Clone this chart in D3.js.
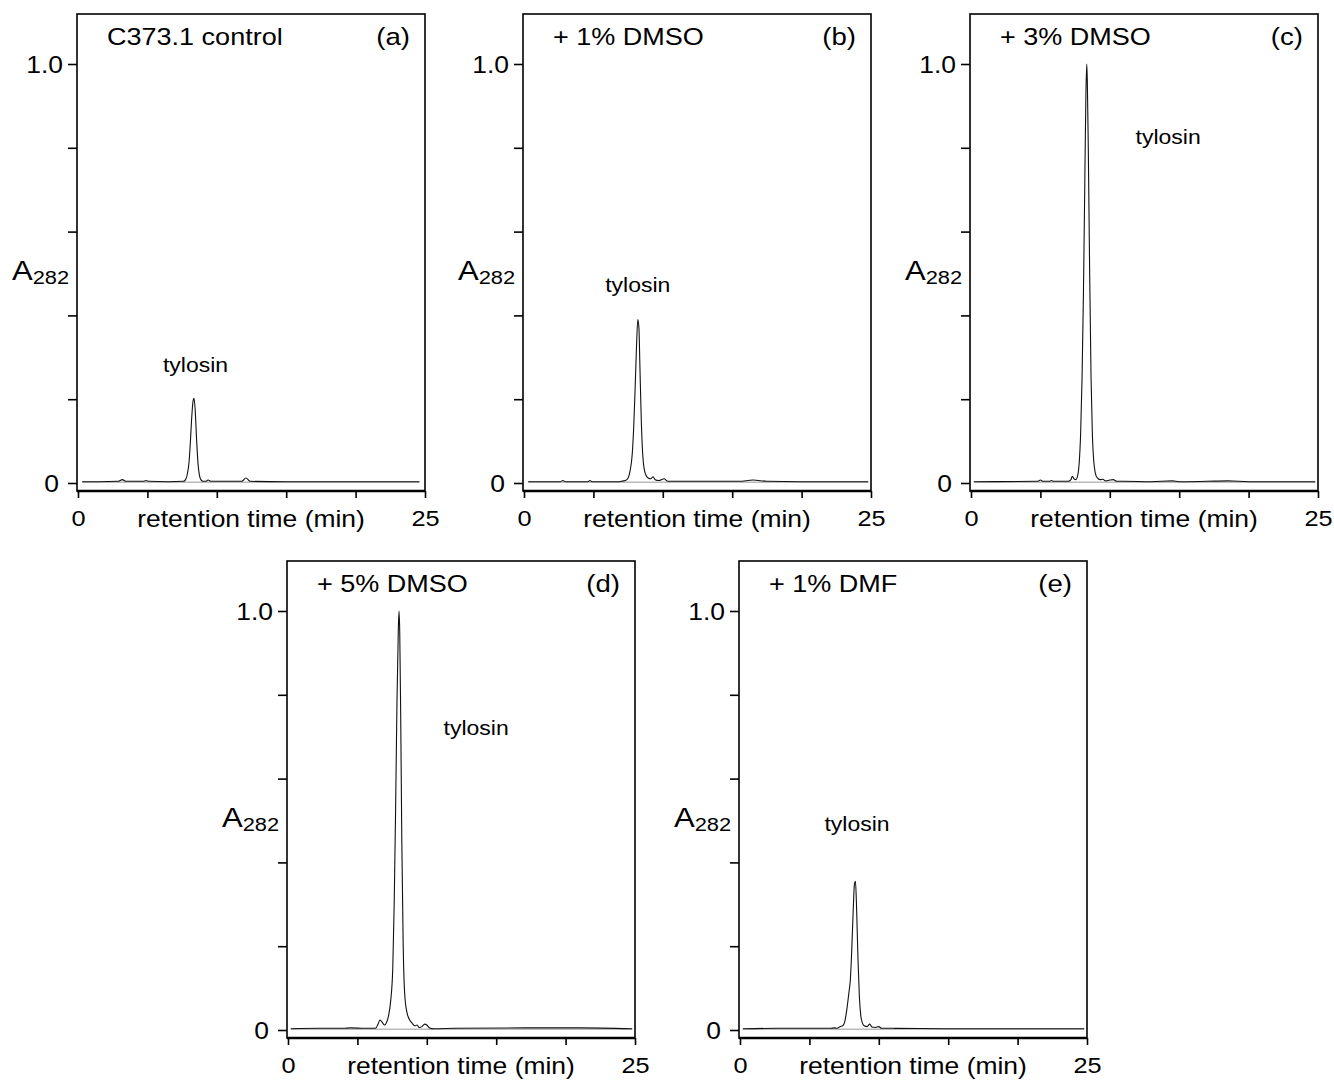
<!DOCTYPE html>
<html>
<head>
<meta charset="utf-8">
<script src="https://cdn.jsdelivr.net/npm/d3@7"></script>
<style>
  html, body { margin: 0; padding: 0; background: #fff; }
  svg { display: block; font-family: "Liberation Sans", Arial, Helvetica, sans-serif; }
</style>
</head>
<body>
<svg id="chart" width="1334" height="1082"></svg>
<script>
// ---------------- data ----------------
const panelIds    = ["a", "b", "c", "d", "e"];
const panelTitles = ["C373.1 control", "+ 1% DMSO", "+ 3% DMSO", "+ 5% DMSO", "+ 1% DMF"];
const panelLetters = ["(a)", "(b)", "(c)", "(d)", "(e)"];
const peakName = "tylosin";
const xTickValues = [0, 5, 10, 15, 20, 25];
const xTickLabels = ["0", "", "", "", "", "25"];
const yTickValues = [0, 0.2, 0.4, 0.6, 0.8, 1.0];
const yTickLabels = ["0", "", "", "", "", "1.0"];
const xTitle = "retention time (min)";
const yTitleMain = "A";
const yTitleSub = "282";

// chromatogram traces: [retention time (min), A282 (normalised)]
const traceA = [
  [0.3,0.003],[1.5,0.003],[2.9,0.004],[3.2,0.008],[3.45,0.004],[4.7,0.004],[4.9,0.006],[5.1,0.004],
  [6.5,0.003],[7.6,0.004],[7.75,0.008],[7.9,0.025],[8.0,0.05],[8.1,0.10],[8.2,0.16],[8.3,0.198],
  [8.36,0.202],[8.45,0.17],[8.55,0.10],[8.65,0.045],[8.75,0.018],[8.85,0.008],[9.0,0.004],
  [9.2,0.004],[9.37,0.007],[9.6,0.004],[10.4,0.004],[11.8,0.004],[12.1,0.012],[12.4,0.004],
  [15,0.003],[20,0.003],[24.6,0.003]
];
const traceB = [
  [0.3,0.003],[2.6,0.003],[2.8,0.006],[3.0,0.003],[4.6,0.003],[4.75,0.006],[4.9,0.003],[6.8,0.003],
  [7.0,0.004],[7.3,0.006],[7.5,0.012],[7.65,0.03],[7.8,0.07],[7.9,0.13],[8.0,0.22],[8.1,0.32],
  [8.2,0.39],[8.28,0.37],[8.35,0.28],[8.45,0.15],[8.55,0.07],[8.65,0.035],[8.8,0.018],[8.95,0.012],
  [9.1,0.01],[9.3,0.015],[9.45,0.008],[9.7,0.006],[10.1,0.01],[10.3,0.005],[10.5,0.004],
  [15.5,0.004],[16.5,0.007],[17.5,0.004],[20,0.003],[24.8,0.003]
];
const traceC = [
  [0.2,0.003],[4.8,0.004],[5.0,0.007],[5.2,0.004],[5.65,0.004],[5.8,0.006],[5.95,0.004],[6.8,0.004],
  [7.0,0.004],[7.2,0.008],[7.3,0.016],[7.42,0.01],[7.55,0.008],[7.7,0.02],[7.8,0.05],[7.9,0.12],
  [8.0,0.25],[8.1,0.45],[8.2,0.72],[8.28,0.93],[8.34,1.0],[8.38,0.96],[8.45,0.8],[8.55,0.5],
  [8.65,0.25],[8.75,0.11],[8.85,0.05],[8.95,0.025],[9.1,0.012],[9.3,0.008],[9.5,0.009],[9.7,0.005],
  [10.0,0.007],[10.25,0.008],[10.5,0.004],[11,0.004],[13,0.003],[14.5,0.005],[15,0.003],
  [17,0.004],[18.5,0.005],[20,0.003],[24.8,0.003]
];
const traceD = [
  [0.2,0.003],[2.3,0.004],[4.0,0.004],[4.5,0.005],[5.5,0.004],[6.0,0.004],[6.3,0.004],[6.5,0.015],
  [6.62,0.024],[6.75,0.02],[6.95,0.012],[7.1,0.018],[7.25,0.035],[7.4,0.07],[7.55,0.15],[7.65,0.3],
  [7.75,0.52],[7.85,0.78],[7.95,0.96],[8.0,1.0],[8.05,0.95],[8.12,0.75],[8.2,0.45],[8.3,0.2],
  [8.4,0.09],[8.55,0.045],[8.75,0.025],[8.95,0.016],[9.15,0.01],[9.3,0.012],[9.45,0.006],
  [9.65,0.008],[9.85,0.014],[10.0,0.012],[10.2,0.005],[10.5,0.003],[12,0.004],[17,0.005],
  [21,0.005],[24.8,0.003]
];
const traceE = [
  [0.2,0.003],[2.7,0.004],[5,0.004],[6.5,0.004],[6.8,0.005],[7.0,0.004],[7.2,0.008],[7.4,0.01],
  [7.55,0.02],[7.7,0.05],[7.85,0.09],[7.95,0.12],[8.05,0.19],[8.15,0.28],[8.25,0.35],[8.32,0.355],
  [8.4,0.29],[8.5,0.17],[8.6,0.08],[8.7,0.035],[8.8,0.018],[8.95,0.01],[9.15,0.008],[9.35,0.014],
  [9.5,0.007],[9.75,0.006],[10.0,0.008],[10.2,0.004],[11,0.004],[15,0.003],[24.8,0.003]
];
const traces = [traceA, traceB, traceC, traceD, traceE];
// label anchor for "tylosin" in data coordinates [min, A282]
const peakLabelAt = [[8.47,0.265],[8.2,0.456],[14.2,0.808],[13.55,0.705],[8.43,0.476]];

// ---------------- layout ----------------
const W = 348, H = 477;            // panel frame size
const panelPos = [[77,14],[523,14],[970,14],[287,561],[739,561]];
const SX = 1.15;                   // horizontal stretch of the lettering

const svg = d3.select("#chart");

panelIds.forEach((id, i) => {
  const [L, T] = panelPos[i];
  const g = svg.append("g").attr("transform", `translate(${L},${T})`);

  const x = d3.scaleLinear().domain([0, 25]).range([1, W]);
  const y = d3.scaleLinear().domain([0, 1]).range([469, 50]);

  // frame
  g.append("rect").attr("x", 0).attr("y", 0).attr("width", W).attr("height", H)
    .attr("fill", "none").attr("stroke", "#000").attr("stroke-width", 1.6);

  // y axis
  const ya = g.append("g")
    .call(d3.axisLeft(y).tickValues(yTickValues).tickSize(9).tickPadding(5)
      .tickFormat((d, k) => yTickLabels[k]));
  ya.select(".domain").remove();
  ya.selectAll(".tick line").attr("stroke", "#000").attr("stroke-width", 1.6);
  ya.selectAll(".tick text")
    .attr("x", null).attr("dy", null)
    .attr("font-size", 23).attr("fill", "#000")
    .attr("text-anchor", "end")
    .attr("transform", (d) => `translate(${d === 0 ? -18 : -14},8) scale(${SX},1)`);

  // x axis
  const xa = g.append("g").attr("transform", `translate(0,${H})`)
    .call(d3.axisBottom(x).tickValues(xTickValues).tickSize(7).tickPadding(0).tickSizeOuter(0)
      .tickFormat((d, k) => xTickLabels[k]));
  xa.select(".domain").attr("stroke", "#000").attr("stroke-width", 2.6)
    .attr("d", `M0,0H${W}`);
  xa.selectAll(".tick line").attr("stroke", "#000").attr("stroke-width", 1.6);
  xa.selectAll(".tick text")
    .attr("y", null).attr("dy", null)
    .attr("font-size", 22).attr("fill", "#000")
    .attr("transform", `translate(0,35) scale(${SX},1)`);

  // zero reference line
  const tr = traces[i];
  g.append("line")
    .attr("x1", x(tr[0][0])).attr("x2", x(tr[tr.length - 1][0]))
    .attr("y1", y(0.002)).attr("y2", y(0.002))
    .attr("stroke", "#999").attr("stroke-width", 1);

  // trace
  const line = d3.line().x(d => x(d[0])).y(d => y(d[1])).curve(d3.curveMonotoneX);
  g.append("path").datum(tr).attr("d", line)
    .attr("fill", "none").attr("stroke", "#111").attr("stroke-width", 1.1)
    .attr("stroke-linejoin", "round");

  // texts
  g.append("text").text(panelTitles[i])
    .attr("font-size", 23.5).attr("fill", "#000")
    .attr("transform", `translate(30,31) scale(${SX},1)`);
  g.append("text").text(panelLetters[i])
    .attr("font-size", 24).attr("fill", "#000").attr("text-anchor", "end")
    .attr("transform", `translate(${W - 15},31) scale(${SX},1)`);
  g.append("text").text(peakName)
    .attr("font-size", 20).attr("fill", "#000").attr("text-anchor", "middle")
    .attr("transform", `translate(${x(peakLabelAt[i][0])},${y(peakLabelAt[i][1])}) scale(${SX},1)`);
  g.append("text").text(xTitle)
    .attr("font-size", 23).attr("fill", "#000").attr("text-anchor", "middle")
    .attr("transform", `translate(${W / 2},${H + 36}) scale(${SX},1)`);
  const yt = g.append("text")
    .attr("fill", "#000")
    .attr("transform", `translate(-65,${y(0.5) + 6}) scale(${SX},1)`);
  yt.append("tspan").text(yTitleMain).attr("font-size", 27);
  yt.append("tspan").text(yTitleSub).attr("font-size", 19).attr("dy", 4);
});
</script>
</body>
</html>
